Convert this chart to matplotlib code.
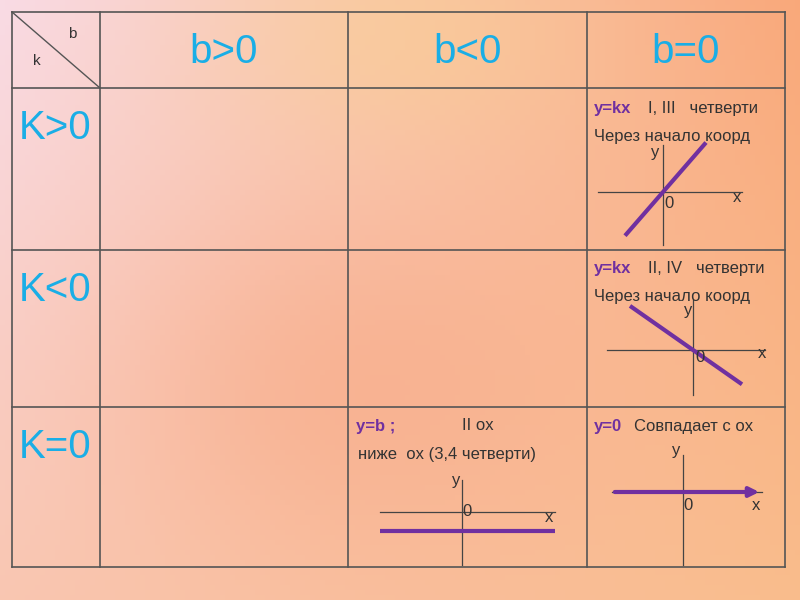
import numpy as np
import matplotlib
matplotlib.use("Agg")
import matplotlib.pyplot as plt

plt.rcParams['font.family'] = ['Liberation Sans', 'DejaVu Sans']

col_headers = ["b>0", "b<0", "b=0"]
row_headers = ["K>0", "K<0", "K=0"]
col_edges = [12, 100, 348, 587, 785]
row_edges = [12, 88, 250, 407, 567]

# mini graphs: slope k, intercept b (pixel units relative to origin), x range
mini_k = [1.15, -0.7, 0.0, 0.0]
mini_b = [0, 0, -19, 0]
mini_xr = [(-38, 43), (-63, 49), (-82, 93), (-71, 79)]
mini_origin = [(663, 192), (693, 350), (462, 512), (683, 492)]
mini_xaxis = [(-65, 79), (-86, 72), (-82, 93), (-71, 79)]
mini_yaxis = [(-53, 47), (-45, 50), (-53, 32), (-73, 37)]

W, H = 800, 600
fig = plt.figure(figsize=(8, 6), dpi=100)
ax = fig.add_axes([0, 0, 1, 1])
ax.set_xlim(0, W); ax.set_ylim(H, 0); ax.axis('off')

# gradient background
yy, xx = np.mgrid[0:1:120j, 0:1:160j]
tl = np.array([0.98, 0.86, 0.90]); tr = np.array([0.98, 0.66, 0.48])
bl = np.array([0.98, 0.78, 0.70]); br = np.array([0.98, 0.74, 0.55])
mid = np.array([0.97, 0.66, 0.52]); topc = np.array([0.98, 0.82, 0.55])
img = (tl*((1-xx)*(1-yy))[..., None] + tr*(xx*(1-yy))[..., None]
       + bl*((1-xx)*yy)[..., None] + br*(xx*yy)[..., None])
d = np.exp(-(((xx-0.45)/0.3)**2 + ((yy-0.65)/0.3)**2))[..., None]
img = img*(1-0.6*d) + mid*0.6*d
d2 = np.exp(-(((xx-0.5)/0.25)**2 + ((yy-0.05)/0.2)**2))[..., None]
img = img*(1-0.5*d2) + topc*0.5*d2
ax.imshow(np.clip(img, 0, 1), extent=[0, W, H, 0], aspect='auto', zorder=0)

gc = '#555555'
for x in col_edges:
    ax.plot([x, x], [row_edges[0], row_edges[-1]], color=gc, lw=1.2)
for y in row_edges:
    ax.plot([col_edges[0], col_edges[-1]], [y, y], color=gc, lw=1.2)
ax.plot([12, 100], [12, 88], color=gc, lw=1)
ax.text(72, 34, "b", fontsize=11, color='#333333', ha='center', va='center')
ax.text(37, 61, "k", fontsize=11, color='#333333', ha='center', va='center')

cyan = '#1AAEE6'
purple = '#7030A0'
for i, t in enumerate(col_headers):
    ax.text((col_edges[i+1]+col_edges[i+2])/2, 52, t, fontsize=29, color=cyan,
            ha='center', va='center')
for i, t in enumerate(row_headers):
    ax.text(55, row_edges[i+1] + 40, t, fontsize=29, color=cyan, ha='center', va='center')

fs = 12
dark = '#333333'
ax.text(594, 108, "y=kx", fontsize=fs, color=purple, fontweight='bold', va='center')
ax.text(648, 108, "I, III   четверти", fontsize=fs, color=dark, va='center')
ax.text(594, 136, "Через начало коорд", fontsize=fs, color=dark, va='center')
ax.text(594, 268, "y=kx", fontsize=fs, color=purple, fontweight='bold', va='center')
ax.text(648, 268, "II, IV   четверти", fontsize=fs, color=dark, va='center')
ax.text(594, 296, "Через начало коорд", fontsize=fs, color=dark, va='center')
ax.text(356, 426, "y=b ;", fontsize=fs, color=purple, fontweight='bold', va='center')
ax.text(462, 426, "II ox", fontsize=fs, color=dark, va='center')
ax.text(358, 454, "ниже  ox (3,4 четверти)", fontsize=fs, color=dark, va='center')
ax.text(594, 426, "y=0", fontsize=fs, color=purple, fontweight='bold', va='center')
ax.text(634, 426, "Совпадает с ox", fontsize=fs, color=dark, va='center')

lbl = [((-8, 40), (6, -12), (74, -6)), ((-5, 40), (7, -8), (69, -4)),
       ((-6, 32), (5, 1), (87, -6)), ((-7, 42), (5, -13), (73, -13))]
for i in range(4):
    ox, oy = mini_origin[i]
    xa, ya = mini_xaxis[i], mini_yaxis[i]
    ax.plot([ox+xa[0], ox+xa[1]], [oy, oy], color='#444444', lw=0.9)
    ax.plot([ox, ox], [oy-ya[0], oy-ya[1]], color='#444444', lw=0.9)
    xs = np.array(mini_xr[i], dtype=float)
    ys = mini_k[i]*xs + mini_b[i]
    if i == 3:
        ax.annotate("", xy=(ox+xs[1], oy-ys[1]), xytext=(ox+xs[0], oy-ys[0]),
                    arrowprops=dict(arrowstyle='-|>', color=purple, lw=3, mutation_scale=14))
    else:
        ax.plot(ox+xs, oy-ys, color=purple, lw=3, solid_capstyle='butt')
    for t, (dx, dy) in zip(["y", "0", "x"], lbl[i]):
        ax.text(ox+dx, oy-dy, t, fontsize=12, color=dark, ha='center', va='center')

fig.savefig("out.png", dpi=100)
